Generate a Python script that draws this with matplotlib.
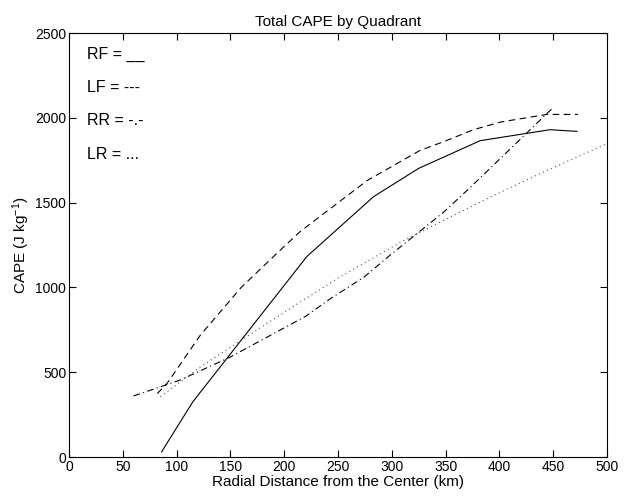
import matplotlib
matplotlib.use("Agg")
import matplotlib.pyplot as plt

plt.rcParams['font.family'] = ['Liberation Sans', 'DejaVu Sans']
plt.rcParams['mathtext.default'] = 'regular'

# RF (solid)
rf_x = [86, 115, 221, 283, 325, 382, 447, 472]
rf_y = [30, 325, 1182, 1535, 1702, 1865, 1930, 1920]
# LF (dashed)
lf_x = [82, 91, 122, 160, 196, 215, 277, 326, 348, 376, 401, 444, 473]
lf_y = [374, 433, 718, 1000, 1218, 1330, 1630, 1807, 1859, 1930, 1975, 2020, 2020]
# RR (dash-dot)
rr_x = [60, 103, 150, 220, 243, 274, 298, 348, 373, 449]
rr_y = [360, 453, 590, 830, 934, 1060, 1188, 1443, 1590, 2055]
# LR (dotted)
lr_x = [85, 122, 193, 249, 308, 357, 391, 438, 500]
lr_y = [355, 531, 825, 1051, 1266, 1424, 1531, 1672, 1848]

xticks = [0, 50, 100, 150, 200, 250, 300, 350, 400, 450, 500]
yticks = [0, 500, 1000, 1500, 2000, 2500]
legend_labels = ["RF = __", "LF = ---", "RR = -.-", "LR = ..."]

fig = plt.figure(figsize=(6.24, 4.98), dpi=100)
ax = fig.add_axes([0.1106, 0.0823, 0.8622, 0.8514])

lw = 0.8
ax.plot(rf_x, rf_y, color='black', linewidth=lw, linestyle='-')
ax.plot(lf_x, lf_y, color='black', linewidth=lw, linestyle=(0, (6, 4)))
ax.plot(rr_x, rr_y, color='black', linewidth=lw, linestyle=(0, (6, 3, 1, 3)))
ax.plot(lr_x, lr_y, color='#555555', linewidth=lw, linestyle=(0, (1, 3)))

ax.set_xlim(0, 500)
ax.set_ylim(0, 2500)
ax.set_xticks(xticks)
ax.set_yticks(yticks)
ax.tick_params(direction='in', top=True, right=True, length=5, width=0.8, labelsize=10, pad=2)
for s in ax.spines.values():
    s.set_linewidth(0.8)

ax.set_title("Total CAPE by Quadrant", fontsize=11, pad=5)
ax.set_xlabel("Radial Distance from the Center (km)", fontsize=11, labelpad=1)
ax.set_ylabel(r"CAPE (J kg$^{-1}$)", fontsize=11, labelpad=2)

legend_y = [2376, 2178, 1982, 1782]
for lab, yy in zip(legend_labels, legend_y):
    ax.text(17, yy, lab, fontsize=11.5, va='center', ha='left')

fig.savefig("out.png", dpi=100)
